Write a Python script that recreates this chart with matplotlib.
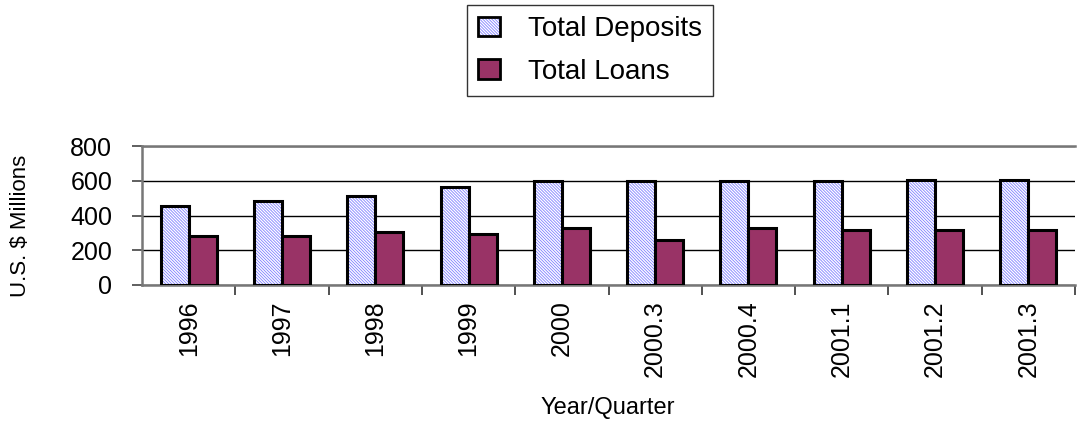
import numpy as np
import matplotlib
matplotlib.use("Agg")
import matplotlib.pyplot as plt
from matplotlib.patches import Patch

# data
periods = ["1996", "1997", "1998", "1999", "2000",
           "2000.3", "2000.4", "2001.1", "2001.2", "2001.3"]
deposits = [457, 481, 515, 563, 596, 596, 596, 596, 607, 607]
loans = [281, 281, 305, 292, 329, 258, 329, 315, 315, 315]

plum = "#993366"
hatch_blue = "#8080ff"

plt.rcParams['font.family'] = ['Liberation Sans', 'DejaVu Sans']
plt.rcParams['hatch.linewidth'] = 0.6

fig = plt.figure(figsize=(10.78, 4.23), dpi=100)
ax = fig.add_axes([142/1078, 1 - 285/423, 933/1078, 139/423])

x = np.arange(len(periods))
w = 0.3
hatch = '\\' * 11

# deposits: hatched fill first, then a black outline on top
ax.bar(x - w/2, deposits, w, color='white', edgecolor=hatch_blue,
       hatch=hatch, linewidth=0, zorder=3)
ax.bar(x - w/2, deposits, w, fill=False, edgecolor='black',
       linewidth=2.2, zorder=4)
ax.bar(x + w/2, loans, w, color=plum, edgecolor='black',
       linewidth=2.2, zorder=4)

ax.set_xlim(-0.5, len(periods) - 0.5)
ax.set_ylim(0, 800)
ax.set_yticks([0, 200, 400, 600, 800])
ax.yaxis.grid(True, color='black', linewidth=1.0, zorder=1)
ax.set_axisbelow(True)

ax.set_xticks(x)
ax.set_xticklabels(periods, rotation=90, fontsize=18)
ax.tick_params(axis='x', which='major', length=0, pad=11)
ax.set_xticks(np.arange(len(periods)) + 0.5, minor=True)
ax.tick_params(axis='x', which='minor', length=7, width=1.2, color='#333333')
ax.tick_params(axis='y', length=7.5, width=1.2, color='#444444',
               labelsize=18, pad=14)

for side in ['top', 'left', 'bottom']:
    ax.spines[side].set_color('#777777')
    ax.spines[side].set_linewidth(1.8)
ax.spines['right'].set_visible(False)

fig.text(21/1078, 1 - 226/423, "U.S. $ Millions", rotation=90,
         ha='center', va='center', fontsize=16)
fig.text(608/1078, 1 - 408/423, "Year/Quarter", ha='center', va='center',
         fontsize=17)

dep_handle = (Patch(facecolor='white', edgecolor=hatch_blue, hatch=hatch, linewidth=0),
              Patch(fill=False, edgecolor='black', linewidth=2))
loan_handle = Patch(facecolor=plum, edgecolor='black', linewidth=2)
leg = fig.legend([dep_handle, loan_handle], ["Total Deposits", "Total Loans"],
                 loc='upper left', bbox_to_anchor=(467/1078, 1 - 5/423),
                 fontsize=20, frameon=True, fancybox=False, shadow=False,
                 handlelength=0.8, handleheight=0.7, handletextpad=1.0,
                 borderpad=0.4, labelspacing=0.6, borderaxespad=0)
leg.get_frame().set_edgecolor('black')
leg.get_frame().set_linewidth(1.0)

fig.savefig("out.png", dpi=100)
